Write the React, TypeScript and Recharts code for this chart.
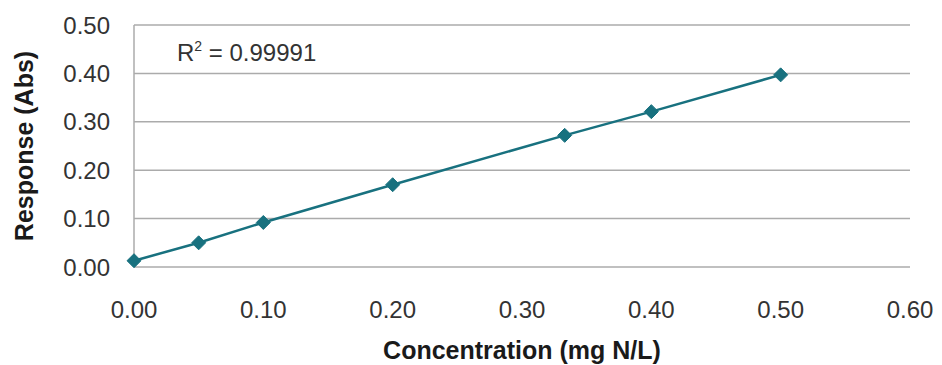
import React from 'react';
import { LineChart, Line, XAxis, YAxis, CartesianGrid, Customized } from 'recharts';

const concentrations = [0, 0.05, 0.1, 0.2, 0.333, 0.4, 0.5];
const responses = [0.013, 0.05, 0.092, 0.17, 0.272, 0.321, 0.397];
const xTicks = [0, 0.1, 0.2, 0.3, 0.4, 0.5, 0.6];
const yTicks = [0, 0.1, 0.2, 0.3, 0.4, 0.5];
const rSquared = '0.99991';

const data = concentrations.map((c, i) => ({ x: c, y: responses[i] }));

const FONT = '"Liberation Sans", Arial, sans-serif';
const LINE = '#18717f';
const GRID = '#ababab';

const Diamond = (props: any) => {
  const { cx, cy } = props;
  if (cx == null || cy == null) return null;
  const r = 7;
  return (
    <path
      d={`M${cx},${cy - r} L${cx + r},${cy} L${cx},${cy + r} L${cx - r},${cy} Z`}
      fill={LINE}
      stroke={LINE}
      strokeWidth={1}
    />
  );
};

const YTitle = (props: any) => {
  const vb = props.viewBox || {};
  const cy = vb.y + vb.height / 2;
  const cx = 33;
  return (
    <text
      x={cx}
      y={cy}
      transform={`rotate(-90, ${cx}, ${cy})`}
      textAnchor="middle"
      fontFamily={FONT}
      fontWeight="bold"
      fontSize={25}
      fill="#1a1a1a"
    >
      Response (Abs)
    </text>
  );
};

const RAnnotation = () => (
  <text x={177} y={61} fontFamily={FONT} fontSize={24} fill="#333333">
    R
    <tspan fontSize={14} dy={-10}>2</tspan>
    <tspan dy={10}> = {rSquared}</tspan>
  </text>
);

export default function App() {
  return (
    <div style={{ position: 'absolute', left: 0, top: 0, width: 942, height: 365, background: '#fff' }}>
      <LineChart
        width={942}
        height={365}
        data={data}
        margin={{ top: 25, right: 32, bottom: 0, left: 0 }}
      >
        <CartesianGrid vertical={false} stroke={GRID} strokeWidth={1.5} />
        <XAxis
          dataKey="x"
          type="number"
          domain={[0, 0.6]}
          ticks={xTicks}
          tickFormatter={(v: number) => v.toFixed(2)}
          axisLine={false}
          tickLine={false}
          tickMargin={28}
          height={98}
          tick={{ fontFamily: FONT, fontSize: 24, fill: '#333333' }}
          label={{
            value: 'Concentration (mg N/L)',
            position: 'insideBottom',
            offset: 6,
            style: { fontFamily: FONT, fontWeight: 'bold', fontSize: 25, fill: '#1a1a1a' },
          }}
        />
        <YAxis
          dataKey="y"
          type="number"
          domain={[0, 0.5]}
          ticks={yTicks}
          tickFormatter={(v: number) => v.toFixed(2)}
          axisLine={{ stroke: GRID, strokeWidth: 1.5 }}
          tickLine={false}
          tickMargin={18}
          width={134}
          tick={{ fontFamily: FONT, fontSize: 24, fill: '#333333' }}
          label={{ value: 'Response (Abs)', content: YTitle }}
        />
        <Line
          type="linear"
          dataKey="y"
          stroke={LINE}
          strokeWidth={2.5}
          dot={<Diamond />}
          activeDot={false}
          isAnimationActive={false}
        />
        <Customized component={RAnnotation} />
      </LineChart>
    </div>
  );
}
